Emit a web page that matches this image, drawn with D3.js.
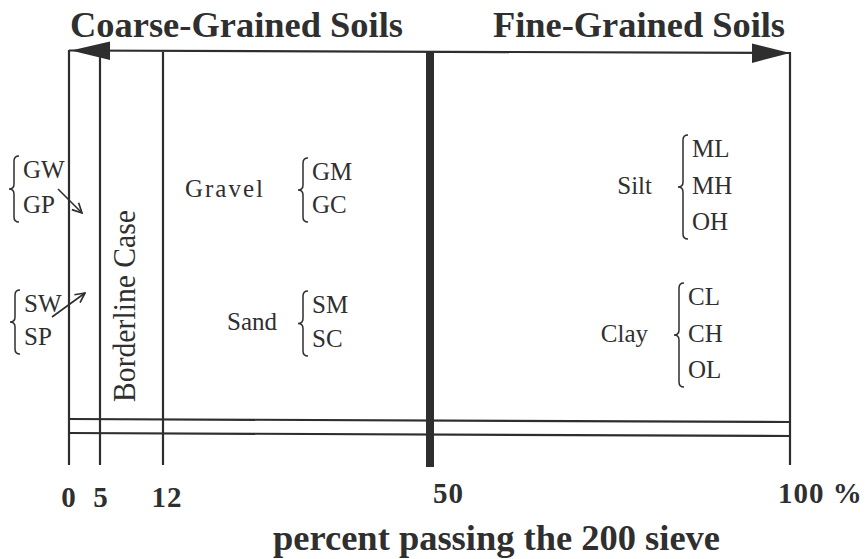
<!DOCTYPE html>
<html>
<head>
<meta charset="utf-8">
<script src="https://cdn.jsdelivr.net/npm/d3@7"></script>
<style>
body { margin: 0; background: #fff; }
text { font-family: "Liberation Serif", "Times New Roman", serif; fill: #2f2f2f; }
</style>
</head>
<body>
<div class="chart"></div>
<script>
(function(){

// boundaries on the percent passing axis
var tickValues = [0, 5, 12, 50, 100];
var tickLabels = ["0", "5", "12", "50", "100 %"];
var zoneTitles = ["Coarse-Grained Soils", "Fine-Grained Soils"];
var axisTitle = "percent passing the 200 sieve";
var borderText = "Borderline Case";

// soil symbols
var cleanGravel = ["GW", "GP"];
var cleanSand = ["SW", "SP"];
var gravelCodes = ["GM", "GC"];
var sandCodes = ["SM", "SC"];
var siltCodes = ["ML", "MH", "OH"];
var clayCodes = ["CL", "CH", "OL"];
var groupNames = ["Gravel", "Sand", "Silt", "Clay"];

var width = 867,
    height = 559,
    ink = "#2e2e2e";

var svg = d3.select(".chart")
    .append("svg")
    .attr("width", width)
    .attr("height", height);

// the axis is not drawn to true scale in the figure, so piecewise
var x = d3.scaleLinear()
    .domain(tickValues)
    .range([69, 100, 163, 430, 790]);

var defs = svg.append("defs");
defs.append("marker")
    .attr("id", "open")
    .attr("viewBox", "0 0 10 10")
    .attr("refX", 9).attr("refY", 5)
    .attr("markerWidth", 12).attr("markerHeight", 12)
    .attr("markerUnits", "userSpaceOnUse")
    .attr("orient", "auto")
    .append("path")
    .attr("d", "M1,1 L9,5 L1,9")
    .attr("fill", "none")
    .attr("stroke", ink)
    .attr("stroke-width", 1.4);

// vertical boundaries
svg.selectAll(".bound")
    .data(tickValues)
    .enter()
    .append("line")
    .attr("class", "bound")
    .attr("x1", function(d){ return x(d); })
    .attr("x2", function(d){ return x(d); })
    .attr("y1", function(d){ return d === 0 ? 50 : 52; })
    .attr("y2", function(d){ return d === 50 ? 467 : 465; })
    .attr("stroke", ink)
    .attr("stroke-width", function(d){ return d === 50 ? 8 : 2.2; });

// double horizontal line near the bottom
svg.selectAll(".rail")
    .data([420, 434])
    .enter()
    .append("line")
    .attr("class", "rail")
    .attr("x1", x(0))
    .attr("x2", x(100))
    .attr("y1", function(d){ return d - 1; })
    .attr("y2", function(d){ return d + 2; })
    .attr("stroke", ink)
    .attr("stroke-width", 2.2);

// top double-headed arrow
svg.append("line")
    .attr("x1", x(0)).attr("y1", 50.5)
    .attr("x2", x(100)).attr("y2", 53)
    .attr("stroke", ink)
    .attr("stroke-width", 2.2);
svg.append("path")
    .attr("d", "M" + (x(0) + 2) + ",50.5 L" + (x(0) + 41) + ",41.5 L" + (x(0) + 41) + ",60 Z")
    .attr("fill", ink);
svg.append("path")
    .attr("d", "M" + x(100) + ",53 L" + (x(100) - 38) + ",43.5 L" + (x(100) - 38) + ",63 Z")
    .attr("fill", ink);

svg.selectAll(".zone")
    .data(zoneTitles)
    .enter()
    .append("text")
    .attr("class", "zone")
    .attr("x", function(d, i){ return i === 0 ? 70 : 785; })
    .attr("y", 37)
    .attr("text-anchor", function(d, i){ return i === 0 ? "start" : "end"; })
    .style("font-size", "36px")
    .style("font-weight", "bold")
    .attr("textLength", function(d, i){ return i === 0 ? 333 : 292; })
    .attr("lengthAdjust", "spacingAndGlyphs")
    .text(function(d){ return d; });

// axis labels
var labelShift = [0, 1, 4, 3, -12];
svg.selectAll(".tick")
    .data(tickValues)
    .enter()
    .append("text")
    .attr("class", "tick")
    .attr("x", function(d, i){ return x(d) + labelShift[i]; })
    .attr("y", function(d){ return d < 50 ? 507 : 503; })
    .attr("text-anchor", function(d){ return d < 50 ? "middle" : "start"; })
    .style("font-size", "29px")
    .style("font-weight", "bold")
    .style("letter-spacing", "1px")
    .text(function(d, i){ return tickLabels[i]; });

svg.append("text")
    .attr("x", 273)
    .attr("y", 550)
    .attr("textLength", 447)
    .attr("lengthAdjust", "spacingAndGlyphs")
    .style("font-size", "35px")
    .style("font-weight", "bold")
    .text(axisTitle);

svg.append("text")
    .attr("transform", "translate(135,306) rotate(-90)")
    .attr("text-anchor", "middle")
    .attr("textLength", 192)
    .attr("lengthAdjust", "spacingAndGlyphs")
    .style("font-size", "31px")
    .text(borderText);

function bracePath(bx, y0, y1, w){
    var m = (y0 + y1) / 2, c = bx + w / 2, r = w / 2;
    return "M" + (bx + w) + "," + y0 +
        "Q" + c + "," + y0 + " " + c + "," + (y0 + r) +
        "L" + c + "," + (m - r) +
        "Q" + c + "," + m + " " + bx + "," + m +
        "Q" + c + "," + m + " " + c + "," + (m + r) +
        "L" + c + "," + (y1 - r) +
        "Q" + c + "," + y1 + " " + (bx + w) + "," + y1;
}

function drawGroup(codes, name, o){
    var g = svg.append("g");
    var last = o.top + o.step * (codes.length - 1);
    g.selectAll("text.code")
        .data(codes)
        .enter()
        .append("text")
        .attr("class", "code")
        .attr("x", o.codeX)
        .attr("y", function(d, i){ return o.top + i * o.step; })
        .style("font-size", "25px")
        .text(function(d){ return d; });
    g.append("path")
        .attr("d", bracePath(o.codeX - 14, o.top - 22, last + 9, 10))
        .attr("fill", "none")
        .attr("stroke", ink)
        .attr("stroke-width", 1.5);
    if (name) {
        var t = g.append("text")
            .attr("x", o.nameX)
            .attr("y", (o.top + last) / 2)
            .attr("text-anchor", "end")
            .style("font-size", "25px")
            .text(name);
        if (o.nameLen) t.attr("textLength", o.nameLen).attr("lengthAdjust", "spacing");
    }
}

drawGroup(cleanGravel, null, {codeX: 23, top: 178, step: 35});
drawGroup(cleanSand, null, {codeX: 24, top: 312, step: 33});
drawGroup(gravelCodes, groupNames[0], {codeX: 312, top: 180, step: 33, nameX: 263, nameLen: 78});
drawGroup(sandCodes, groupNames[1], {codeX: 312, top: 313, step: 34, nameX: 277});
drawGroup(siltCodes, groupNames[2], {codeX: 692, top: 157, step: 36.5, nameX: 652});
drawGroup(clayCodes, groupNames[3], {codeX: 688, top: 305, step: 36.5, nameX: 648});

// little arrows pointing into the 0-5 strip
svg.append("line")
    .attr("x1", 58).attr("y1", 189)
    .attr("x2", 82).attr("y2", 213)
    .attr("stroke", ink).attr("stroke-width", 1.6)
    .attr("marker-end", "url(#open)");
svg.append("line")
    .attr("x1", 52).attr("y1", 317)
    .attr("x2", 85).attr("y2", 293)
    .attr("stroke", ink).attr("stroke-width", 1.6)
    .attr("marker-end", "url(#open)");

})();
</script>
</body>
</html>
